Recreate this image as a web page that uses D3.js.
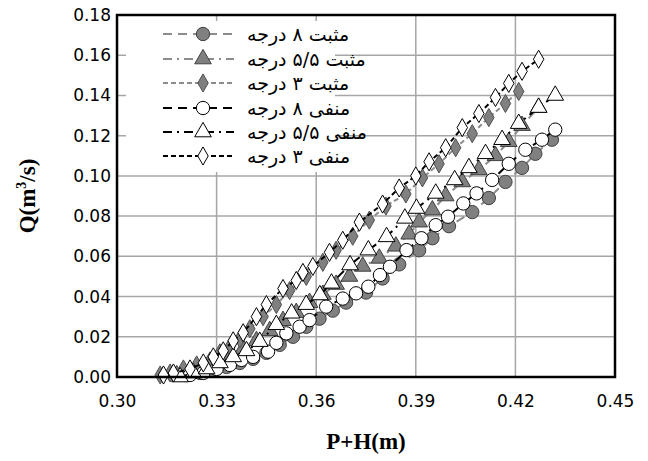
<!DOCTYPE html>
<html><head><meta charset="utf-8">
<script src="https://cdn.jsdelivr.net/npm/d3@7"></script>
<style>body{margin:0;background:#fff}svg{display:block}</style>
</head><body>
<svg id="c" width="648" height="461"></svg>
<script>
// ---- data ----
const seriesNames = ["مثبت ۸ درجه","مثبت ۵/۵ درجه","مثبت ۳ درجه","منفی ۸ درجه","منفی ۵/۵ درجه","منفی ۳ درجه"];
const xTicks = [0.30,0.33,0.36,0.39,0.42,0.45];
const yTicks = [0,0.02,0.04,0.06,0.08,0.10,0.12,0.14,0.16,0.18];
const pos8 = [[0.321,0.001],[0.325,0.002],[0.329,0.003],[0.333,0.005],[0.337,0.007],[0.341,0.009],[0.345,0.012],[0.349,0.016],[0.353,0.020],[0.357,0.025],[0.361,0.029],[0.365,0.033],[0.369,0.037],[0.375,0.042],[0.380,0.049],[0.385,0.056],[0.391,0.063],[0.395,0.069],[0.400,0.075],[0.407,0.082],[0.412,0.089],[0.417,0.097],[0.422,0.104],[0.426,0.111],[0.431,0.118]];
const pos55 = [[0.318,0.001],[0.322,0.003],[0.326,0.005],[0.330,0.007],[0.334,0.010],[0.338,0.014],[0.342,0.018],[0.346,0.023],[0.350,0.028],[0.354,0.032],[0.358,0.037],[0.362,0.041],[0.366,0.046],[0.370,0.050],[0.374,0.055],[0.379,0.059],[0.384,0.065],[0.388,0.071],[0.391,0.077],[0.395,0.083],[0.399,0.090],[0.404,0.097],[0.409,0.103],[0.414,0.110],[0.418,0.117],[0.422,0.125],[0.427,0.134]];
const pos3 = [[0.313,0.001],[0.316,0.002],[0.320,0.004],[0.324,0.006],[0.328,0.008],[0.331,0.012],[0.334,0.015],[0.337,0.019],[0.340,0.024],[0.344,0.030],[0.348,0.036],[0.352,0.043],[0.357,0.050],[0.362,0.057],[0.366,0.063],[0.371,0.070],[0.376,0.078],[0.381,0.085],[0.387,0.091],[0.392,0.099],[0.397,0.106],[0.402,0.114],[0.407,0.121],[0.412,0.129],[0.417,0.136],[0.421,0.142]];
const neg8 = [[0.322,0.001],[0.326,0.002],[0.330,0.004],[0.334,0.006],[0.3375,0.0085],[0.341,0.010],[0.3455,0.0126],[0.348,0.017],[0.351,0.0217],[0.355,0.025],[0.358,0.0283],[0.363,0.035],[0.368,0.039],[0.372,0.0416],[0.3757,0.0449],[0.3792,0.0507],[0.3822,0.0548],[0.3872,0.0631],[0.3917,0.069],[0.396,0.0755],[0.3997,0.0797],[0.4043,0.0863],[0.4083,0.0913],[0.413,0.098],[0.418,0.106],[0.423,0.113],[0.428,0.118],[0.432,0.123]];
const neg55 = [[0.319,0.000],[0.323,0.002],[0.327,0.004],[0.331,0.007],[0.335,0.010],[0.339,0.013],[0.343,0.0176],[0.348,0.026],[0.3526,0.0317],[0.357,0.036],[0.3611,0.0408],[0.3646,0.0466],[0.3702,0.0557],[0.3757,0.0631],[0.3812,0.0697],[0.3867,0.0789],[0.3902,0.0838],[0.396,0.0913],[0.4017,0.098],[0.406,0.104],[0.411,0.111],[0.416,0.118],[0.421,0.126],[0.427,0.134],[0.432,0.140]];
const neg3 = [[0.314,0.001],[0.317,0.002],[0.322,0.004],[0.326,0.007],[0.329,0.010],[0.332,0.013],[0.335,0.018],[0.338,0.022],[0.342,0.030],[0.345,0.036],[0.350,0.044],[0.354,0.048],[0.356,0.052],[0.359,0.055],[0.364,0.062],[0.368,0.068],[0.373,0.077],[0.380,0.086],[0.385,0.094],[0.390,0.100],[0.394,0.107],[0.399,0.114],[0.404,0.124],[0.409,0.131],[0.414,0.139],[0.418,0.146],[0.422,0.152],[0.427,0.158]];
const allSeries = [pos8,pos55,pos3,neg8,neg55,neg3];

// ---- styles ----
const styles = [
  {shape:d3.symbolCircle, size:140, fill:"#808080", stroke:"#404040", line:"#8c8c8c", dash:"9,6"},
  {shape:d3.symbolTriangle, size:120, fill:"#808080", stroke:"#404040", line:"#8c8c8c", dash:"9,5,2,5"},
  {shape:d3.symbolDiamond, size:95, fill:"#808080", stroke:"#505050", line:"#8c8c8c", dash:"5,3"},
  {shape:d3.symbolCircle, size:140, fill:"#ffffff", stroke:"#000", line:"#000", dash:"9,6"},
  {shape:d3.symbolTriangle, size:120, fill:"#ffffff", stroke:"#000", line:"#000", dash:"9,5,2,5"},
  {shape:d3.symbolDiamond, size:95, fill:"#ffffff", stroke:"#000", line:"#000", dash:"5,3"}
];

const svg = d3.select("#c");
const L=117, R=615, T=15, B=377;
const x = d3.scaleLinear().domain([0.30,0.45]).range([L,R]);
const y = d3.scaleLinear().domain([0,0.18]).range([B,T]);

// grid
svg.append("g").selectAll("line").data(xTicks.slice(1,-1)).join("line")
  .attr("x1",d=>x(d)).attr("x2",d=>x(d)).attr("y1",T).attr("y2",B)
  .attr("stroke","#a6a6a6").attr("stroke-width",1.5);
svg.append("g").selectAll("line").data(yTicks.slice(1,-1)).join("line")
  .attr("x1",L).attr("x2",R).attr("y1",d=>y(d)).attr("y2",d=>y(d))
  .attr("stroke","#a6a6a6").attr("stroke-width",1.5);

// legend background
svg.append("rect").attr("x",126).attr("y",21).attr("width",209).attr("height",151).attr("fill","#fff");

// series
const line = d3.line().x(d=>x(d[0])).y(d=>y(d[1]));
allSeries.forEach((s,i)=>{
  const st=styles[i];
  svg.append("path").datum(s).attr("d",line).attr("fill","none")
    .attr("stroke",st.line).attr("stroke-width",2).attr("stroke-dasharray",st.dash);
  svg.append("g").selectAll("path").data(s).join("path")
    .attr("d",d3.symbol().type(st.shape).size(st.size))
    .attr("transform",d=>`translate(${x(d[0])},${y(d[1])})`)
    .attr("fill",st.fill).attr("stroke",st.stroke).attr("stroke-width",1);
});

// plot frame
svg.append("rect").attr("x",L).attr("y",T).attr("width",R-L).attr("height",B-T)
  .attr("fill","none").attr("stroke","#000").attr("stroke-width",2.5);

// axes labels
const xAxis = d3.axisBottom(x).tickValues(xTicks).tickFormat(d3.format(".2f")).tickSize(0).tickPadding(18);
const gx = svg.append("g").attr("transform",`translate(0,${B})`).call(xAxis);
gx.select(".domain").remove();
gx.selectAll("text").attr("font-family","DejaVu Sans").attr("font-size",17).attr("fill","#000");
const yAxis = d3.axisLeft(y).tickValues(yTicks).tickFormat(d3.format(".2f")).tickSize(0).tickPadding(6);
const gy = svg.append("g").attr("transform",`translate(${L},0)`).call(yAxis);
gy.select(".domain").remove();
gy.selectAll("text").attr("font-family","DejaVu Sans").attr("font-size",17).attr("fill","#000");

svg.append("text").text("P+H(m)").attr("x",(L+R)/2).attr("y",449)
  .attr("text-anchor","middle").attr("font-family","Liberation Serif").attr("font-weight","bold").attr("font-size",23);
const yt = svg.append("text").attr("transform",`translate(35,${(T+B)/2}) rotate(-90)`)
  .attr("text-anchor","middle").attr("font-family","Liberation Serif").attr("font-weight","bold").attr("font-size",23);
yt.append("tspan").text("Q(m");
yt.append("tspan").text("3").attr("font-size",14).attr("dy",-9);
yt.append("tspan").text("/s)").attr("dy",9);

// legend
const leg = svg.append("g");
const legY = [34,59,83,108,132,156];
seriesNames.forEach((n,i)=>{
  const st=styles[i], yy=legY[i];
  leg.append("line").attr("x1",163).attr("x2",234).attr("y1",yy).attr("y2",yy)
    .attr("stroke",st.line).attr("stroke-width",2).attr("stroke-dasharray",st.dash);
  leg.append("path").attr("d",d3.symbol().type(st.shape).size(st.size)())
    .attr("transform",`translate(203,${yy})`).attr("fill",st.fill).attr("stroke",st.stroke);
  leg.append("text").text(n).attr("x",247).attr("y",yy+7).attr("text-anchor","start")
    .attr("font-family","DejaVu Sans").attr("font-size",19).attr("fill","#000");
});
</script>
</body></html>
